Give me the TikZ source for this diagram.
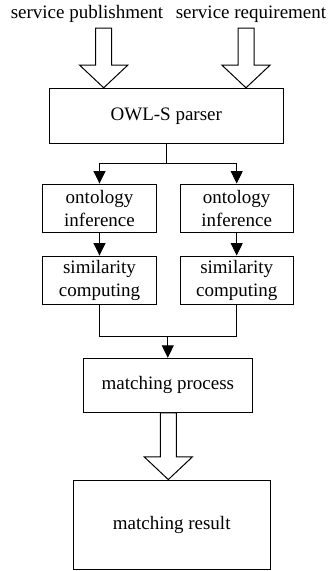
\documentclass[tikz,border=0pt]{standalone}
\usepackage{fontspec}
\setmainfont{Liberation Serif}
\usetikzlibrary{arrows.meta,calc}
\tikzset{
  box/.style={draw,line width=1pt,inner sep=0pt,align=center},
  arr/.style={line width=1pt,-{Triangle[width=12pt,length=12.5pt]}},
  link/.style={line width=1pt}
}
% hollow block arrow: #1 top of shaft, #2 tip
\newcommand\fatarrow[2]{%
  \draw[line width=1pt,fill=white] ($(#1)+(-8,0)$) -- ($(#1)+(8,0)$) -- ($(#2)+(8,-22.6)$)
    -- ($(#2)+(24,-22.6)$) -- (#2) -- ($(#2)+(-24,-22.6)$) -- ($(#2)+(-8,-22.6)$) -- cycle;}
\begin{document}
\begin{tikzpicture}[x=1pt,y=-1pt,font=\fontsize{19}{23}\selectfont]
    \useasboundingbox (0,0) rectangle (329,571);
    \node (pub) at (87,14) {service publishment};
    \node (req) at (251,14) {service requirement};
    \node[box,minimum width=234pt,minimum height=55pt] (parser) at (166.3,115.8) {OWL-S parser};
    \node[box,minimum width=114.4pt,minimum height=48.3pt] (ont1) at (99.5,208.2) {ontology\\inference};
    \node[box,minimum width=113.3pt,minimum height=48.3pt] (ont2) at (236.7,208.2) {ontology\\inference};
    \node[box,minimum width=114.4pt,minimum height=48.3pt] (sim1) at (99.5,280.2) {similarity\\computing};
    \node[box,minimum width=113.3pt,minimum height=48.3pt] (sim2) at (236.7,280.2) {similarity\\computing};
    \node[box,minimum width=169pt,minimum height=54pt] (match) at (167.8,385.3) {matching process};
    \node[box,minimum width=196.7pt,minimum height=89.3pt] (result) at (171.7,524.7) {matching result};

    \coordinate (pubtop) at (103.7,28);
    \coordinate (reqtop) at (246,28);
    \coordinate (pubtip) at (parser.north -| pubtop);
    \coordinate (reqtip) at (parser.north -| reqtop);
    \coordinate (mtop) at ($(match.south)+(0.5,0)$);
    \coordinate (mtip) at (result.north -| mtop);
    \fatarrow{pubtop}{pubtip}
    \fatarrow{reqtop}{reqtip}
    \fatarrow{mtop}{mtip}

    \draw[link] (parser.south) -- ++(0,20) coordinate (split);
    \draw[arr] (split) -| (ont1.north);
    \draw[arr] (split) -| (ont2.north);
    \draw[arr] (ont1) -- (sim1);
    \draw[arr] (ont2) -- (sim2);
    \coordinate (join) at ($(match.north)+(0,-21.6)$);
    \draw[link] (sim1.south) |- (join) -| (sim2.south);
    \draw[arr] (join) -- (match.north);
  \end{tikzpicture}
\end{document}
